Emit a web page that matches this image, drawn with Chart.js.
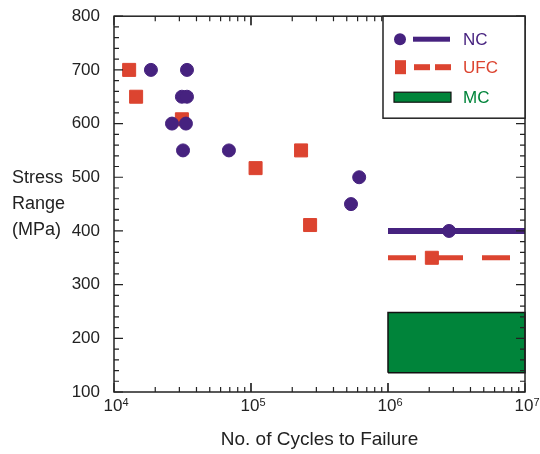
<!DOCTYPE html>
<html>
<head>
<meta charset="utf-8">
<script src="https://cdn.jsdelivr.net/npm/chart.js@4.4.1/dist/chart.umd.min.js"></script>
<style>
    html, body { margin: 0; padding: 0; background: #ffffff; }
    #wrap { width: 540px; height: 454px; }
</style>
</head>
<body>
<div id="wrap"><canvas id="snChart" width="540" height="454"></canvas></div>
<script>
// Datos NC (puntos de falla)
const ncCycles = [18600, 34100, 31300, 34100, 26500, 33500, 31900, 69000, 616000, 537000];
const ncStress = [700, 700, 650, 650, 600, 600, 550, 550, 500, 450];
const ncRunoutCycles = [2790000];
const ncRunoutStress = [400];

// Datos UFC
const ufcCycles = [12900, 14500, 31300, 108000, 232000, 270000];
const ufcStress = [700, 650, 608, 517, 550, 411];
const ufcRunoutCycles = [2090000];
const ufcRunoutStress = [350];

// Limites de fatiga
const limitCycles = [1e6, 1e7];
const ncLimit = 400;
const ufcLimit = 350;
const mcLow = 136;
const mcHigh = 248;

// Ejes y textos
const seriesNames = ['NC', 'UFC', 'MC'];
const xTickValues = [1e4, 1e5, 1e6, 1e7];
const xTickBase = ['10', '10', '10', '10'];
const xTickExponents = ['4', '5', '6', '7'];
const yMin = 100;
const yMax = 800;
const yStep = 100;
const yMinorStep = 20;
const xTitle = 'No. of Cycles to Failure';
const yTitleLines = ['Stress', 'Range', '(MPa)'];

const colorNC = '#46227f';
const colorUFC = '#dc4430';
const colorMC = '#00843a';
const textColor = '#222222';
const fontFamily = '"Liberation Sans", Arial, sans-serif';

const toPoints = (xs, ys) => xs.map((v, i) => ({ x: v, y: ys[i] }));

// Marco, ticks internos, etiquetas y leyenda
const framePlugin = {
    id: 'frame',
    afterDatasetsDraw(chart) {
        const { ctx, chartArea: a, scales } = chart;
        const x = scales.x;
        const y = scales.y;
        ctx.save();
        ctx.strokeStyle = textColor;
        ctx.lineWidth = 1.5;
        ctx.strokeRect(a.left, a.top, a.right - a.left, a.bottom - a.top);

        // ticks eje x (abajo y arriba)
        ctx.lineWidth = 1.2;
        for (let d = 4; d < 7; d++) {
            for (let k = 1; k <= 10; k++) {
                const px = x.getPixelForValue(k * Math.pow(10, d));
                const len = (k === 1 || k === 10) ? 9 : 5;
                ctx.beginPath();
                ctx.moveTo(px, a.bottom);
                ctx.lineTo(px, a.bottom - len);
                ctx.moveTo(px, a.top);
                ctx.lineTo(px, a.top + len);
                ctx.stroke();
            }
        }

        // ticks eje y (izquierda y derecha)
        for (let v = yMin; v <= yMax; v += yMinorStep) {
            const py = y.getPixelForValue(v);
            const len = (v % yStep === 0) ? 9 : 5;
            ctx.beginPath();
            ctx.moveTo(a.left, py);
            ctx.lineTo(a.left + len, py);
            ctx.moveTo(a.right, py);
            ctx.lineTo(a.right - len, py);
            ctx.stroke();
        }

        // etiquetas eje x con exponente
        ctx.fillStyle = textColor;
        ctx.textBaseline = 'alphabetic';
        xTickValues.forEach((v, i) => {
            const px = x.getPixelForValue(v);
            ctx.font = '17px ' + fontFamily;
            ctx.textAlign = 'center';
            ctx.fillText(xTickBase[i], px - 1, 411);
            const w = ctx.measureText(xTickBase[i]).width;
            ctx.font = '11px ' + fontFamily;
            ctx.textAlign = 'left';
            ctx.fillText(xTickExponents[i], px - 1 + w / 2, 406);
        });

        // titulo eje y
        ctx.font = '18px ' + fontFamily;
        ctx.textAlign = 'left';
        ctx.textBaseline = 'middle';
        yTitleLines.forEach((line, i) => {
            ctx.fillText(line, 12, 178 + i * 26);
        });

        // leyenda
        const lx = 383;
        const ly = a.top;
        ctx.fillStyle = '#ffffff';
        ctx.fillRect(lx, ly, a.right - lx, 102);
        ctx.strokeStyle = textColor;
        ctx.lineWidth = 1.5;
        ctx.strokeRect(lx, ly, a.right - lx, 102);

        const rows = [ly + 23, ly + 51, ly + 81];

        // NC
        ctx.fillStyle = colorNC;
        ctx.beginPath();
        ctx.arc(400, rows[0], 6, 0, Math.PI * 2);
        ctx.fill();
        ctx.fillRect(413, rows[0] - 2.5, 37, 5);

        // UFC
        ctx.fillStyle = colorUFC;
        ctx.fillRect(395, rows[1] - 7, 11, 14);
        ctx.fillRect(414, rows[1] - 3, 16, 6);
        ctx.fillRect(435, rows[1] - 3, 16, 6);

        // MC
        ctx.fillStyle = colorMC;
        ctx.fillRect(394, rows[2] - 5, 57, 10);
        ctx.strokeStyle = '#111111';
        ctx.lineWidth = 1.2;
        ctx.strokeRect(394, rows[2] - 5, 57, 10);

        ctx.font = '17px ' + fontFamily;
        ctx.textAlign = 'left';
        ctx.textBaseline = 'middle';
        [colorNC, colorUFC, colorMC].forEach((c, i) => {
            ctx.fillStyle = c;
            ctx.fillText(seriesNames[i], 463, rows[i] + 1);
        });

        ctx.restore();
    }
};

const ctx = document.getElementById('snChart');

new Chart(ctx, {
    type: 'scatter',
    data: {
        datasets: [
            {
                label: seriesNames[0],
                data: toPoints(ncCycles.concat(ncRunoutCycles), ncStress.concat(ncRunoutStress)),
                backgroundColor: colorNC,
                borderColor: colorNC,
                pointStyle: 'circle',
                pointRadius: 6.5,
                clip: false
            },
            {
                label: seriesNames[1],
                data: toPoints(ufcCycles.concat(ufcRunoutCycles), ufcStress.concat(ufcRunoutStress)),
                backgroundColor: colorUFC,
                borderColor: colorUFC,
                pointStyle: 'rect',
                pointRadius: 9.2,
                clip: false
            },
            {
                label: seriesNames[0] + ' limit',
                data: toPoints(limitCycles, limitCycles.map(() => ncLimit)),
                showLine: true,
                borderColor: colorNC,
                borderWidth: 6,
                pointRadius: 0,
                clip: false
            },
            {
                label: seriesNames[1] + ' limit',
                data: toPoints(limitCycles, limitCycles.map(() => ufcLimit)),
                showLine: true,
                borderColor: colorUFC,
                borderWidth: 5,
                borderDash: [28, 19],
                pointRadius: 0,
                clip: false
            },
            {
                label: seriesNames[2],
                data: toPoints(
                    [limitCycles[0], limitCycles[0], limitCycles[1], limitCycles[1], limitCycles[0]],
                    [mcLow, mcHigh, mcHigh, mcLow, mcLow]
                ),
                showLine: true,
                fill: 'shape',
                backgroundColor: colorMC,
                borderColor: '#111111',
                borderWidth: 1.5,
                pointRadius: 0,
                clip: false
            }
        ]
    },
    options: {
        responsive: false,
        animation: false,
        devicePixelRatio: 1,
        layout: {
            padding: { top: 15, right: 15, left: 0, bottom: 0 }
        },
        plugins: {
            legend: { display: false },
            tooltip: { enabled: false }
        },
        scales: {
            x: {
                type: 'logarithmic',
                min: 1e4,
                max: 1e7,
                grid: { display: false },
                border: { display: false },
                ticks: { display: false },
                title: {
                    display: true,
                    text: xTitle,
                    color: textColor,
                    font: { size: 19, family: fontFamily },
                    padding: { top: 0, bottom: 3 }
                },
                afterFit: (scale) => { scale.height = 62; }
            },
            y: {
                min: yMin,
                max: yMax,
                grid: { display: false },
                border: { display: false },
                ticks: {
                    stepSize: yStep,
                    autoSkip: false,
                    padding: 6,
                    color: textColor,
                    font: { size: 17, family: fontFamily }
                },
                afterFit: (scale) => { scale.width = 114; }
            }
        }
    },
    plugins: [framePlugin]
});
</script>
</body>
</html>
